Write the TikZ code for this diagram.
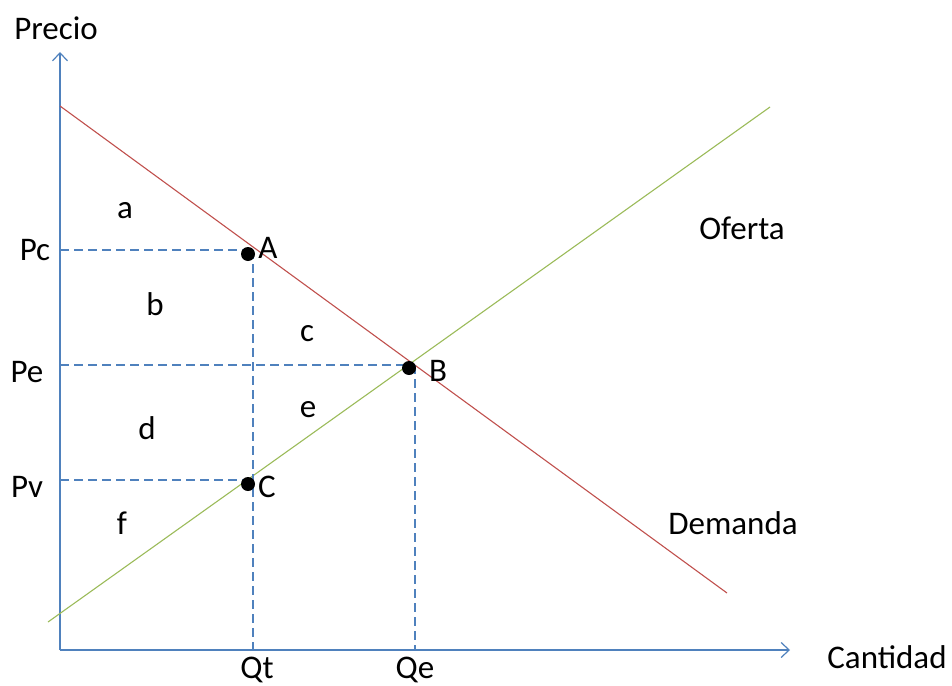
\documentclass[tikz,border=0pt]{standalone}
\usepackage{fontspec}
\setmainfont{Carlito}
\usetikzlibrary{arrows.meta}
\definecolor{axisblue}{HTML}{4F81BD}
\definecolor{demred}{HTML}{C0504D}
\definecolor{ofgreen}{HTML}{9BBB59}
\tikzset{
  axis/.style={draw=axisblue, line width=1.2pt, -{Straight Barb[length=8pt,width=15pt,line width=1.2pt]}},
  guide/.style={draw=axisblue, line width=1.2pt, dash pattern=on 9pt off 5pt},
  curve/.style={line width=1.1pt},
  lbl/.style={font=\fontsize{33}{36}\selectfont, inner sep=0pt},
  pt/.style={circle, fill=black, inner sep=0pt, minimum size=14pt},
}
\begin{document}
\begin{tikzpicture}[x=1pt,y=-1pt]
\useasboundingbox (0,0) rectangle (952,685);
% axes
\coordinate (O) at (60,650);
\coordinate (ytip) at (60,52);
\coordinate (xtip) at (790,650);
\draw[axis] (O) -- (ytip);
\draw[axis] (O) -- (xtip);
% curves
\coordinate (d1) at (60,106);
\coordinate (d2) at (727,593);
\coordinate (s1) at (48,622);
\coordinate (s2) at (770,107);
\draw[curve, demred] (d1) -- (d2);
\draw[curve, ofgreen] (s1) -- (s2);
% guide coordinates
\coordinate (pc0) at (60,250);
\coordinate (pc1) at (253,250);
\coordinate (qt0) at (253,650);
\coordinate (pe0) at (60,365);
\coordinate (pe1) at (415,365);
\coordinate (qe0) at (415,650);
\coordinate (pv0) at (60,480);
\coordinate (pv1) at (253,480);
\draw[guide] (pc0) -- (pc1);
\draw[guide] (pc1) -- (qt0);
\draw[guide] (pe0) -- (pe1);
\draw[guide] (pe1) -- (qe0);
\draw[guide] (pv0) -- (pv1);
% points
\node[pt] (A) at (248,254) {};
\node[pt] (B) at (409,368) {};
\node[pt] (C) at (248,484) {};
% labels
\node[lbl] (precio) at (56,28) {Precio};
\node[lbl] (cantidad) at (887,657) {Cantidad};
\node[lbl] (Pc) at (35,250) {Pc};
\node[lbl] (Pe) at (27,372) {Pe};
\node[lbl] (Pv) at (27,487) {Pv};
\node[lbl] (Qt) at (257,670) {Qt};
\node[lbl] (Qe) at (415,670) {Qe};
\node[lbl] (oferta) at (742,228) {Oferta};
\node[lbl] (demanda) at (733,523) {Demanda};
\node[lbl] (la) at (125,211) {a};
\node[lbl] (lb) at (155,304) {b};
\node[lbl] (lc) at (307,334) {c};
\node[lbl] (ld) at (147,428) {d};
\node[lbl] (le) at (308,410) {e};
\node[lbl] (lf) at (122,523) {f};
\node[lbl] (tA) at (268,248) {A};
\node[lbl] (tB) at (438,371) {B};
\node[lbl] (tC) at (267,487) {C};
\end{tikzpicture}
\end{document}
